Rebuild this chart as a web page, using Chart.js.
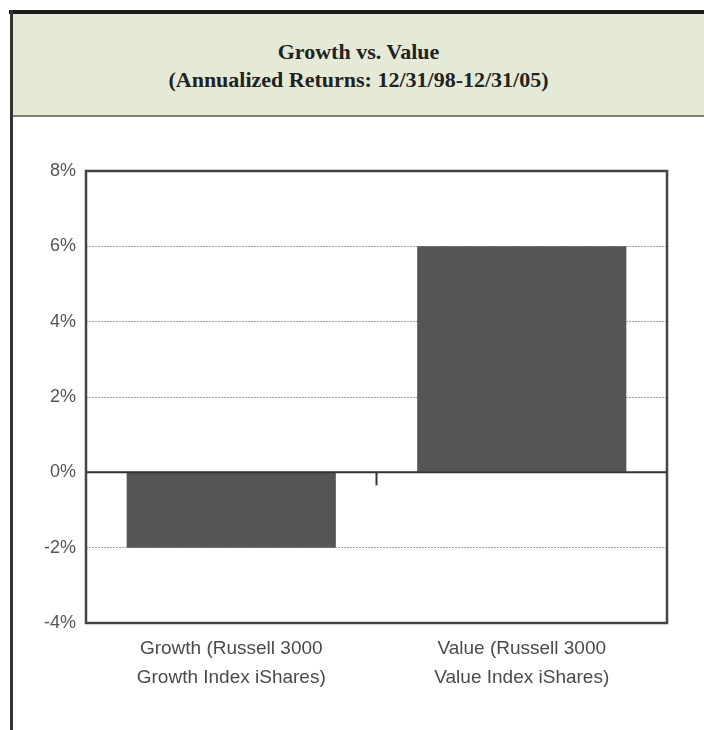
<!DOCTYPE html>
<html>
<head>
<meta charset="utf-8">
<script src="https://cdn.jsdelivr.net/npm/chart.js@4"></script>
<style>
    html, body { margin: 0; padding: 0; background: #fff; }
    #page { position: relative; width: 704px; height: 730px; overflow: hidden; background: #fff; }
    #topRule { position: absolute; left: 9px; top: 10px; width: 695px; height: 4px; background: #1a1a1a; }
    #leftRule { position: absolute; left: 10px; top: 10px; width: 3px; height: 720px; background: #333; }
    #band {
        position: absolute; left: 13px; top: 14px; width: 691px; height: 101px;
        background: #e5ead6; border-bottom: 2px solid #7d8276;
        font-family: "Liberation Serif", "DejaVu Serif", serif; font-weight: bold;
        font-size: 22px; color: #222; text-align: center; line-height: 28px;
    }
    #band div:first-child { margin-top: 24px; }
    #chartBox { position: absolute; left: 0; top: 117px; width: 704px; height: 613px; }
</style>
</head>
<body>
<div id="page">
    <div id="topRule"></div>
    <div id="leftRule"></div>
    <div id="band">
        <div>Growth vs. Value</div>
        <div>(Annualized Returns: 12/31/98-12/31/05)</div>
    </div>
    <div id="chartBox"><canvas id="returnsChart" width="704" height="613"></canvas></div>
</div>
<script>
const categories = [
    ['Growth (Russell 3000', 'Growth Index iShares)'],
    ['Value (Russell 3000', 'Value Index iShares)']
];
const annualizedReturns = [-2.0, 6.0];
const yTicks = [-4, -2, 0, 2, 4, 6, 8];

// frame, zero line and the little tick between the bars
const framePlugin = {
    id: 'frame',
    afterDatasetsDraw(chart) {
        const ctx = chart.ctx;
        const area = chart.chartArea;
        const y0 = chart.scales.y.getPixelForValue(0);
        const x = chart.scales.x;
        const mid = (x.getPixelForValue(0) + x.getPixelForValue(1)) / 2;
        ctx.save();
        ctx.strokeStyle = '#333';
        ctx.lineWidth = 2;
        ctx.beginPath();
        ctx.moveTo(area.left, y0);
        ctx.lineTo(area.right, y0);
        ctx.stroke();
        ctx.beginPath();
        ctx.moveTo(mid, y0);
        ctx.lineTo(mid, y0 + 13);
        ctx.stroke();
        ctx.strokeStyle = '#444';
        ctx.lineWidth = 2.5;
        ctx.strokeRect(area.left, area.top, area.right - area.left, area.bottom - area.top);
        ctx.restore();
    }
};

function createReturnsChart() {
    const ctx = document.getElementById('returnsChart').getContext('2d');
    new Chart(ctx, {
        type: 'bar',
        data: {
            labels: categories,
            datasets: [{
                data: annualizedReturns,
                backgroundColor: '#555558',
                borderWidth: 0,
                barPercentage: 0.72,
                categoryPercentage: 1.0
            }]
        },
        options: {
            responsive: false,
            animation: false,
            layout: { padding: { top: 54, right: 37, left: 0, bottom: 0 } },
            plugins: {
                legend: { display: false },
                tooltip: { enabled: false }
            },
            scales: {
                x: {
                    grid: { display: false },
                    border: { display: false },
                    ticks: {
                        color: '#4a4a4a',
                        padding: 4,
                        font: { family: '"Liberation Sans", Arial, sans-serif', size: 19, lineHeight: 1.5 }
                    },
                    afterFit(scale) { scale.height = 107; }
                },
                y: {
                    min: -4,
                    max: 8,
                    afterBuildTicks(scale) { scale.ticks = yTicks.map(v => ({ value: v })); },
                    grid: {
                        color: '#a0a0a0',
                        lineWidth: 1,
                        drawTicks: false
                    },
                    border: { display: false, dash: [2, 1] },
                    ticks: {
                        color: '#555',
                        padding: 10,
                        font: { family: '"Liberation Sans", Arial, sans-serif', size: 18 },
                        callback: v => v + '%'
                    },
                    afterFit(scale) { scale.width = 86; }
                }
            }
        },
        plugins: [framePlugin]
    });
}

document.addEventListener('DOMContentLoaded', createReturnsChart);
</script>
</body>
</html>
